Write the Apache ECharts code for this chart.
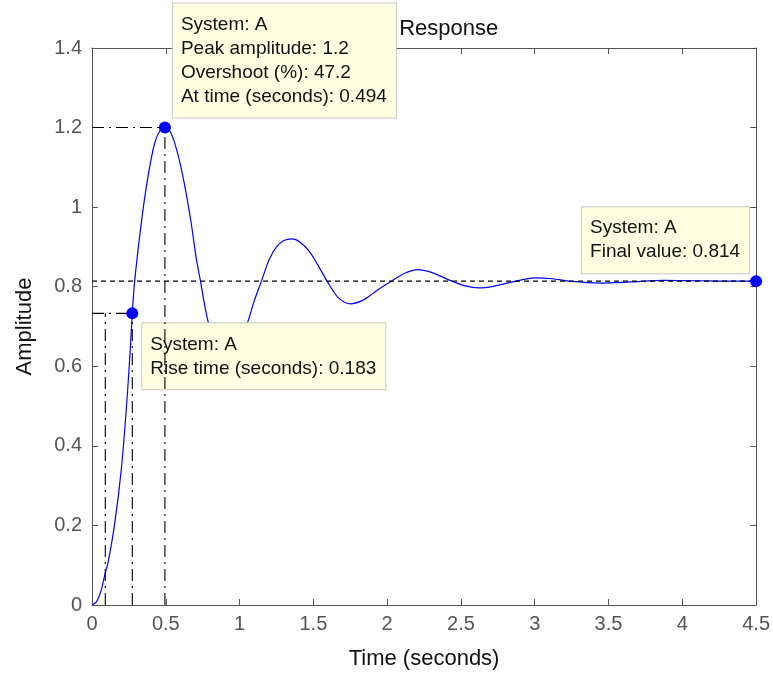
<!DOCTYPE html>
<html>
<head>
<meta charset="utf-8">
<script src="https://cdn.jsdelivr.net/npm/echarts@6/dist/echarts.min.js"></script>
<style>
    html, body { margin: 0; padding: 0; background: #fff; }
    #main { width: 773px; height: 677px; }
</style>
</head>
<body>
<div id="main"></div>
<script>
// step response samples
const timeSec = [0, 0.03, 0.063, 0.09, 0.108, 0.154, 0.198, 0.232, 0.259, 0.273, 0.289, 0.334, 0.379, 0.424, 0.46, 0.494,
    0.53, 0.573, 0.62, 0.67, 0.705, 0.735, 0.785, 0.85, 0.92, 0.99, 1.055, 1.1, 1.148, 1.2, 1.25, 1.3, 1.355, 1.41, 1.47,
    1.53, 1.593, 1.67, 1.752, 1.83, 1.9, 1.96, 2.028, 2.12, 2.206, 2.3, 2.44, 2.53, 2.62, 2.72, 2.85, 3.0, 3.12, 3.23, 3.44,
    3.65, 3.87, 4.1, 4.3, 4.5]
const amplitude = [0, 0.008, 0.038, 0.081, 0.105, 0.205, 0.339, 0.49, 0.64, 0.733, 0.814, 0.96, 1.076, 1.16, 1.192, 1.2,
    1.19, 1.145, 1.07, 0.965, 0.875, 0.814, 0.715, 0.645, 0.622, 0.648, 0.711, 0.765, 0.814, 0.868, 0.9, 0.916, 0.92, 0.912, 0.89,
    0.855, 0.814, 0.772, 0.757, 0.765, 0.782, 0.798, 0.814, 0.834, 0.843, 0.836, 0.814, 0.802, 0.797, 0.801, 0.812, 0.822, 0.82, 0.814, 0.809,
    0.812, 0.816, 0.815, 0.814, 0.814]

// characteristics shown by the data tips
const systemName = 'A'
const peakTime = 0.494
const peakAmp = 1.2
const overshootPct = 47.2
const riseStart = 0.09
const riseEnd = 0.273
const riseLevel = 0.733
const riseTime = 0.183
const finalTime = 4.5
const finalValue = 0.814

const FONT = "'Liberation Sans', Arial, sans-serif"
const DASH_DOT = [12, 5, 2, 5]

function refLine(points, z, type) {
    return {
        type: 'line',
        data: points,
        showSymbol: false,
        silent: true,
        z: z,
        lineStyle: { color: '#000', width: 1.1, type: type || DASH_DOT },
    }
}

function tipLabel(text, pos) {
    return {
        show: true,
        position: pos,
        formatter: text,
        fontFamily: FONT,
        fontSize: 19,
        lineHeight: 24,
        color: '#111',
        backgroundColor: '#ffffe1',
        borderColor: '#c8c8c8',
        borderWidth: 1,
        padding: [9, 9, 9, 8],
        align: 'left',
        verticalAlign: 'top',
    }
}

function marker(point, label, z) {
    return {
        type: 'scatter',
        data: [point],
        symbol: 'circle',
        symbolSize: 12,
        z: z,
        itemStyle: { color: '#0000ff', opacity: 1 },
        label: label,
    }
}

const axisCommon = {
    type: 'value',
    axisLine: { show: true, onZero: false, lineStyle: { color: '#555', width: 1 } },
    axisTick: { show: true, inside: true, length: 6, lineStyle: { color: '#555' } },
    splitLine: { show: false },
}

const xBase = Object.assign({}, axisCommon, { min: 0, max: 4.5, interval: 0.5 })
const yBase = Object.assign({}, axisCommon, { min: 0, max: 1.4, interval: 0.2 })

const chart = echarts.init(document.getElementById('main'))

const option = {
    animation: false,
    backgroundColor: '#fff',
    title: {
        text: 'Step Response',
        left: 418,
        top: 13,
        textAlign: 'center',
        z: 1,
        textStyle: { fontFamily: FONT, fontSize: 22, fontWeight: 'normal', color: '#111' },
    },
    grid: { left: 92, right: 16, top: 48, bottom: 72 },
    xAxis: [
        Object.assign({}, xBase, {
            position: 'bottom',
            name: 'Time (seconds)',
            nameLocation: 'middle',
            nameGap: 43,
            nameTextStyle: { fontFamily: FONT, fontSize: 22, color: '#111' },
            axisLabel: { fontFamily: FONT, fontSize: 20, color: '#555', margin: 9 },
        }),
        Object.assign({}, xBase, { position: 'top', axisLabel: { show: false } }),
    ],
    yAxis: [
        Object.assign({}, yBase, {
            position: 'left',
            name: 'Amplitude',
            nameLocation: 'middle',
            nameGap: 56,
            nameTextStyle: { fontFamily: FONT, fontSize: 22, color: '#111' },
            axisLabel: { fontFamily: FONT, fontSize: 20, color: '#555', margin: 10 },
        }),
        Object.assign({}, yBase, { position: 'right', axisLabel: { show: false } }),
    ],
    series: [
        {
            type: 'line',
            data: timeSec.map((t, i) => [t, amplitude[i]]),
            showSymbol: false,
            smooth: 0.3,
            z: 2,
            lineStyle: { color: '#0000ff', width: 1.2 },
        },
        refLine([[0, finalValue], [finalTime, finalValue]], 3, [5, 4]),
        refLine([[0, peakAmp], [peakTime, peakAmp]], 3),
        refLine([[peakTime, 0], [peakTime, peakAmp]], 6),
        refLine([[0, riseLevel], [riseEnd, riseLevel]], 3),
        refLine([[riseStart, 0], [riseStart, riseLevel]], 3),
        refLine([[riseEnd, 0], [riseEnd, riseLevel]], 3),
        marker([riseEnd, riseLevel],
            tipLabel(`System: ${systemName}\nRise time (seconds): ${riseTime}`, [16, 16]), 5),
        marker([finalTime, finalValue],
            tipLabel(`System: ${systemName}\nFinal value: ${finalValue}`, [-168, -68]), 5),
        marker([peakTime, peakAmp],
            tipLabel(`System: ${systemName}\nPeak amplitude: ${peakAmp}\nOvershoot (%): ${overshootPct}\nAt time (seconds): ${peakTime}`, [14, -118]), 10),
    ],
}

chart.setOption(option)
</script>
</body>
</html>
